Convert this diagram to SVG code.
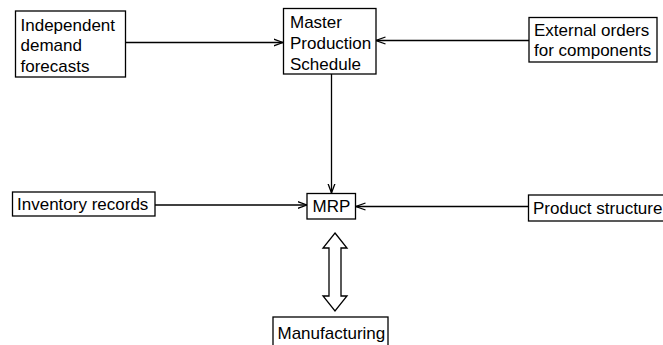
<svg xmlns="http://www.w3.org/2000/svg" width="663" height="345" viewBox="0 0 663 345">
<style>
.box{fill:#fff;stroke:#000;stroke-width:1.3}
.t{font-family:"Liberation Sans",Arial,sans-serif;font-size:17px;fill:#000}
.c{fill:none;stroke:#000;stroke-width:1.3}
</style>
<defs>
<marker id="ah" viewBox="0 0 10 10" refX="9.5" refY="5" markerWidth="10" markerHeight="10" markerUnits="userSpaceOnUse" orient="auto">
<path d="M0,1.5 L9.5,5 L0,8.5" fill="none" stroke="#000" stroke-width="1.3"/>
</marker>
</defs>
<rect width="663" height="345" fill="#fff"/>
<g id="connectors">
<line class="c" x1="125" y1="42.5" x2="283" y2="42.5" marker-end="url(#ah)"/>
<line class="c" x1="529" y1="40.5" x2="376" y2="40.5" marker-end="url(#ah)"/>
<line class="c" x1="331.5" y1="74" x2="331.5" y2="193" marker-end="url(#ah)"/>
<line class="c" x1="155" y1="205" x2="307" y2="205" marker-end="url(#ah)"/>
<line class="c" x1="528" y1="206.5" x2="356" y2="206.5" marker-end="url(#ah)"/>
<path class="c" d="M335,233 L347,248 L341,248 L341,296 L347,296 L335,311 L323,296 L329,296 L329,248 L323,248 Z" fill="#fff"/>
</g>
<g id="forecasts">
<rect class="box" x="15.5" y="11" width="110" height="66"/>
<text class="t" x="20.5" y="30.5">Independent</text>
<text class="t" x="20.5" y="51">demand</text>
<text class="t" x="20.5" y="72">forecasts</text>
</g>
<g id="mps">
<rect class="box" x="283.5" y="8.5" width="92.5" height="65.5"/>
<text class="t" x="290" y="28">Master</text>
<text class="t" x="290" y="49">Production</text>
<text class="t" x="290" y="70">Schedule</text>
</g>
<g id="external">
<rect class="box" x="529" y="17.5" width="128" height="44.5"/>
<text class="t" x="534" y="36">External orders</text>
<text class="t" x="534" y="56">for components</text>
</g>
<g id="inventory">
<rect class="box" x="12.5" y="192" width="142.5" height="24"/>
<text class="t" x="17" y="210">Inventory records</text>
</g>
<g id="mrp">
<rect class="box" x="307" y="193.5" width="48.5" height="25.5"/>
<text class="t" x="312.5" y="212">MRP</text>
</g>
<g id="product">
<rect class="box" x="528.5" y="195" width="140" height="26"/>
<text class="t" x="533" y="214">Product structure</text>
</g>
<g id="manufacturing">
<rect class="box" x="273" y="317" width="115" height="40"/>
<text class="t" x="277.5" y="338.5">Manufacturing</text>
</g>
</svg>
